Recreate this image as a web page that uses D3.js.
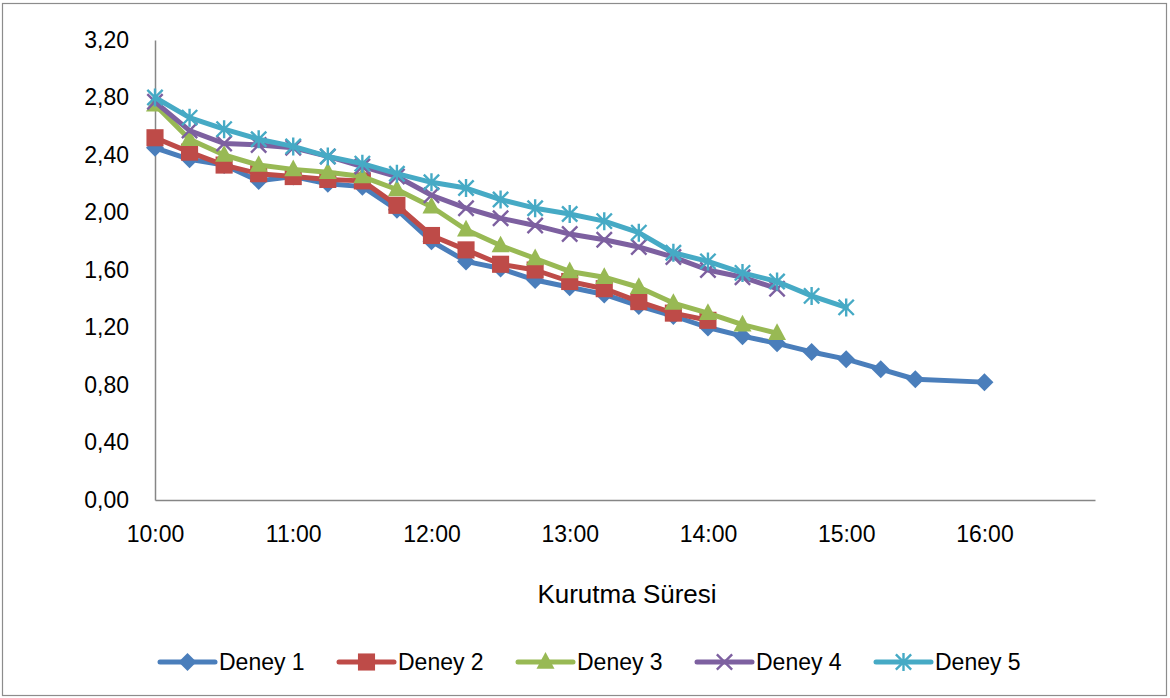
<!DOCTYPE html>
<html>
<head>
<meta charset="utf-8">
<script src="https://cdn.jsdelivr.net/npm/d3@7"></script>
<style>
  html, body { margin: 0; padding: 0; background: #fff; }
  svg { display: block; }
  text { font-family: "Liberation Sans", Arial, sans-serif; fill: #000; }
</style>
</head>
<body>
<svg id="chart" width="1170" height="698"></svg>
<script>
// Sampling times (every 15 minutes), Deney 1 jumps from 15:30 to 16:00
const times = ["10:00","10:15","10:30","10:45","11:00","11:15","11:30","11:45",
  "12:00","12:15","12:30","12:45","13:00","13:15","13:30","13:45","14:00",
  "14:15","14:30","14:45","15:00","15:15","15:30"];
const times1 = times.concat(["16:00"]);

const deney1 = [2.45,2.37,2.33,2.22,2.25,2.20,2.18,2.02,1.80,1.66,1.61,1.53,1.48,1.43,1.35,1.28,1.20,1.14,1.09,1.03,0.98,0.91,0.84,0.82];
const deney2 = [2.52,2.42,2.33,2.27,2.25,2.23,2.22,2.05,1.84,1.74,1.64,1.60,1.52,1.47,1.38,1.30,1.25];
const deney3 = [2.75,2.51,2.40,2.33,2.30,2.28,2.25,2.16,2.04,1.88,1.77,1.68,1.59,1.55,1.48,1.37,1.30,1.22,1.16];
const deney4 = [2.77,2.57,2.48,2.47,2.45,2.39,2.32,2.25,2.12,2.03,1.96,1.91,1.85,1.81,1.76,1.69,1.60,1.55,1.47];
const deney5 = [2.80,2.66,2.58,2.51,2.46,2.39,2.34,2.27,2.21,2.17,2.09,2.03,1.99,1.94,1.86,1.72,1.66,1.58,1.52,1.42,1.34];

const seriesNames = ["Deney 1","Deney 2","Deney 3","Deney 4","Deney 5"];
const xTickLabels = ["10:00","11:00","12:00","13:00","14:00","15:00","16:00"];
const yTicks = [0,0.4,0.8,1.2,1.6,2.0,2.4,2.8,3.2];
const xAxisTitle = "Kurutma Süresi";

const toMin = s => { const [h, m] = s.split(":").map(Number); return h * 60 + m; };

const series = [
  { name: seriesNames[0], t: times1, v: deney1, color: "#4A7EBB", marker: "diamond" },
  { name: seriesNames[1], t: times,  v: deney2, color: "#BE4B48", marker: "square" },
  { name: seriesNames[2], t: times,  v: deney3, color: "#98B954", marker: "triangle" },
  { name: seriesNames[3], t: times,  v: deney4, color: "#7D60A0", marker: "x" },
  { name: seriesNames[4], t: times,  v: deney5, color: "#46AAC5", marker: "star" }
].map(s => ({ ...s, pts: s.v.map((v, i) => ({ x: toMin(s.t[i]), y: v })) }));

const svg = d3.select("#chart");

// outer chart frame
svg.append("rect").attr("x", 2.5).attr("y", 3.5).attr("width", 1164).attr("height", 692)
  .attr("fill", "none").attr("stroke", "#8c8c8c").attr("stroke-width", 1.2);

const x = d3.scaleLinear().domain([toMin("10:00"), toMin("16:48")]).range([155, 1095]);
const y = d3.scaleLinear().domain([0, 3.2]).range([500, 40]);

const fmtY = d => d3.format(".2f")(d).replace(".", ",");
const FONT = "Liberation Sans, Arial, sans-serif";

// y axis
const yAxis = svg.append("g").attr("transform", "translate(155,0)")
  .call(d3.axisLeft(y).tickValues(yTicks).tickFormat(fmtY).tickSize(0).tickPadding(26));
yAxis.select(".domain").attr("stroke", "#868686").attr("stroke-width", 1.5);
yAxis.selectAll("text").attr("font-size", 23).attr("font-family", FONT).attr("fill", "#000");

// x axis
const xAxis = svg.append("g").attr("transform", "translate(0,500)")
  .call(d3.axisBottom(x).tickValues(xTickLabels.map(toMin))
    .tickFormat((d, i) => xTickLabels[i]).tickSize(0).tickPadding(26));
xAxis.select(".domain").attr("stroke", "#868686").attr("stroke-width", 1.5);
xAxis.selectAll("text").attr("font-size", 23).attr("font-family", FONT).attr("fill", "#000");

// axis title
svg.append("text").attr("x", 627).attr("y", 603).attr("text-anchor", "middle")
  .attr("font-size", 26).text(xAxisTitle);

// marker drawing
function drawMarker(g, type, color, size) {
  const r = size / 2;
  if (type === "diamond") {
    g.append("path").attr("d", `M0,${-r}L${r},0L0,${r}L${-r},0Z`).attr("fill", color);
  } else if (type === "square") {
    const s = r * 0.95;
    g.append("rect").attr("x", -s).attr("y", -s).attr("width", 2 * s).attr("height", 2 * s).attr("fill", color);
  } else if (type === "triangle") {
    g.append("path").attr("d", `M0,${-r * 1.1}L${r},${r * 0.75}L${-r},${r * 0.75}Z`).attr("fill", color);
  } else if (type === "x") {
    const s = r * 0.85;
    g.append("path").attr("d", `M${-s},${-s}L${s},${s}M${-s},${s}L${s},${-s}`)
      .attr("stroke", color).attr("stroke-width", 2.4).attr("fill", "none");
  } else if (type === "star") {
    const s = r * 0.85;
    g.append("path").attr("d", `M${-s},${-s}L${s},${s}M${-s},${s}L${s},${-s}M0,${-r}L0,${r}`)
      .attr("stroke", color).attr("stroke-width", 2.4).attr("fill", "none");
  }
}

const line = d3.line().x(d => x(d.x)).y(d => y(d.y));

series.forEach(s => {
  const g = svg.append("g");
  g.append("path").datum(s.pts).attr("d", line).attr("fill", "none")
    .attr("stroke", s.color).attr("stroke-width", 5)
    .attr("stroke-linejoin", "round").attr("stroke-linecap", "round");
  s.pts.forEach(p => {
    const m = g.append("g").attr("transform", `translate(${x(p.x)},${y(p.y)})`);
    drawMarker(m, s.marker, s.color, 18);
  });
});

// legend
const legendX = [160, 339, 518, 697, 876];
series.forEach((s, i) => {
  const g = svg.append("g").attr("transform", `translate(${legendX[i]},662)`);
  g.append("line").attr("x1", 0).attr("x2", 55).attr("y1", 0).attr("y2", 0)
    .attr("stroke", s.color).attr("stroke-width", 5).attr("stroke-linecap", "round");
  const m = g.append("g").attr("transform", "translate(27.5,0)");
  drawMarker(m, s.marker, s.color, 18);
  g.append("text").attr("x", 59).attr("y", 8).attr("font-size", 23).text(s.name);
});
</script>
</body>
</html>
